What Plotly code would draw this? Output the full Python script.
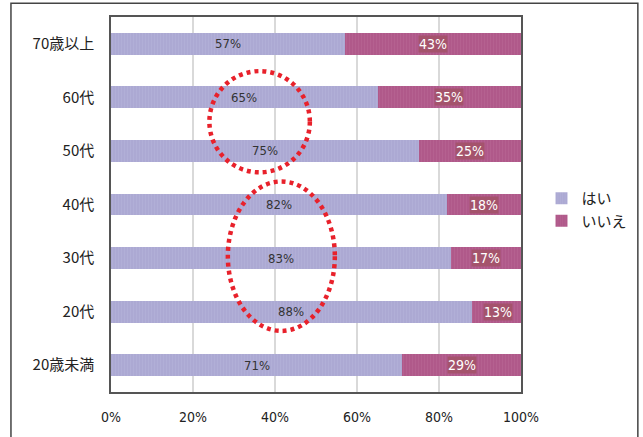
import plotly.graph_objects as go

categories = ["20歳未満", "20代", "30代", "40代", "50代", "60代", "70歳以上"]
hai = [71, 88, 83, 82, 75, 65, 57]
iie = [29, 13, 17, 18, 25, 35, 43]
x_ticks = [0, 20, 40, 60, 80, 100]
x_tick_labels = ["0%", "20%", "40%", "60%", "80%", "100%"]

HAI_C = "#aca9d3"
IIE_C = "#b0598a"
JP = "Noto Sans CJK JP"
NUM = "DejaVu Sans Condensed, Liberation Sans Narrow, Noto Sans CJK JP"

fig = go.Figure()
fig.add_trace(go.Bar(
    y=categories, x=hai, name="はい", orientation="h",
    marker=dict(color=HAI_C, line=dict(width=0),
                pattern=dict(shape="|", fgcolor="#b9b7dc", size=3, solidity=0.3)),
    hoverinfo="x+y",
))
fig.add_trace(go.Bar(
    y=categories, x=iie, name="いいえ", orientation="h",
    marker=dict(color=IIE_C, line=dict(width=0),
                pattern=dict(shape="|", fgcolor="#bb6a96", size=3, solidity=0.3)),
    hoverinfo="x+y",
))

# はい labels (plain) and いいえ labels (dark boxes)
for c, h, n in zip(categories, hai, iie):
    fig.add_annotation(x=h / 2, y=c, xref="x", yref="y", text=f"{h}%",
                       showarrow=False,
                       font=dict(family=NUM, size=13, color="#333333"))
    fig.add_annotation(x=h + n / 2, y=c, xref="x", yref="y", text=f"{n}%",
                       showarrow=False, bgcolor="#a4536c",
                       font=dict(family=NUM, size=14, color="white"),
                       borderpad=0)

# red dotted ellipses
fig.add_shape(type="circle", xref="x", yref="y", x0=24, x1=48.5, y0=3.6, y1=5.49,
              line=dict(color="#e8212b", width=4.5, dash="4px,4px"), layer="above")
fig.add_shape(type="circle", xref="x", yref="y", x0=28.5, x1=54.6, y0=0.64, y1=3.43,
              line=dict(color="#e8212b", width=4.5, dash="4px,4px"), layer="above")

# outer chart border
fig.add_shape(type="rect", xref="paper", yref="paper", x0=-0.244, x1=1.285, y0=-0.14, y1=1.037,
              line=dict(color="#444444", width=1.5), layer="below")

fig.update_layout(
    barmode="stack", bargap=0.59,
    width=643, height=437,
    margin=dict(l=111, r=122, t=17, b=45, autoexpand=False),
    paper_bgcolor="white", plot_bgcolor="white",
    font=dict(family=JP, color="#222222"),
    legend=dict(x=1.05, y=0.56, xanchor="left", yanchor="top", traceorder="normal",
                font=dict(family=JP, size=15, color="#222222"),
                itemwidth=30, tracegroupgap=2, bgcolor="rgba(0,0,0,0)"),
    xaxis=dict(range=[0, 100], tickvals=x_ticks, ticktext=x_tick_labels,
               showgrid=True, gridcolor="#d9d9d9", gridwidth=1.5,
               showline=True, linecolor="#555555", linewidth=1.5, mirror=True,
               zeroline=False, ticks="", ticklabelstandoff=11,
               tickfont=dict(family=NUM, size=14, color="#222222"), fixedrange=True),
    yaxis=dict(categoryorder="array", categoryarray=categories,
               showline=True, linecolor="#555555", linewidth=1.5, mirror=True,
               showgrid=False, ticks="", ticklabelstandoff=12,
               tickfont=dict(family=JP, size=15, color="#222222"), fixedrange=True),
)

fig.write_html("out.html")
